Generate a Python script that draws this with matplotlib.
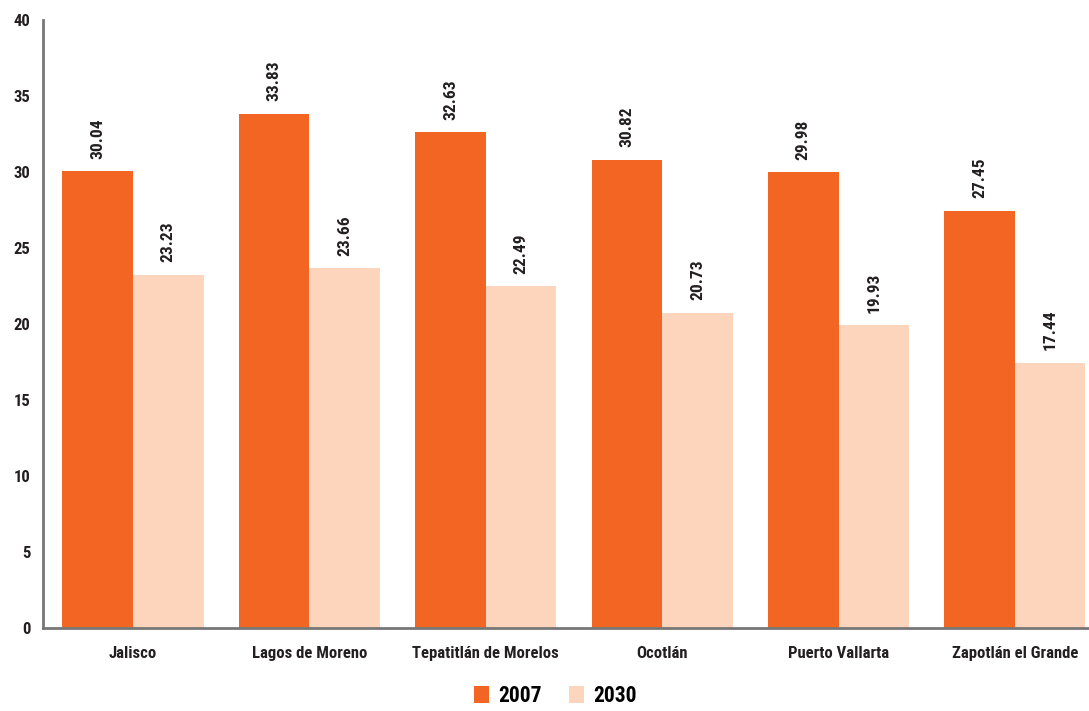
import numpy as np
from matplotlib import pyplot as plt
from matplotlib import font_manager

categories = ["Jalisco", "Lagos de Moreno", "Tepatitlán de Morelos", "Ocotlán",
              "Puerto Vallarta", "Zapotlán el Grande"]
values_2007 = [30.04, 33.83, 32.63, 30.82, 29.98, 27.45]
values_2030 = [23.23, 23.66, 22.49, 20.73, 19.93, 17.44]
series_labels = ["2007", "2030"]

# pick a narrow-ish family if one is there
installed = {f.name for f in font_manager.fontManager.ttflist}
narrow = None
for name in ["Liberation Sans Narrow", "Roboto Condensed", "Open Sans Condensed",
             "DejaVu Sans Condensed"]:
    if name in installed:
        narrow = name
        break
if narrow is None:
    narrow = "Roboto"
    scale = 0.93
else:
    scale = 1.0
font = [narrow, "DejaVu Sans"]
plt.rcParams['font.family'] = font

fig = plt.figure(figsize=(10.89, 7.11), dpi=100)
ax = fig.add_axes([43/1089, 1 - 628/711, 1 - 43/1089, (628 - 20)/711])

x = np.arange(len(categories))
w = 0.40
b1 = ax.bar(x - w/2, values_2007, w, color="#F26522", label=series_labels[0])
b2 = ax.bar(x + w/2, values_2030, w, color="#FDD5BC", label=series_labels[1])

for bars, vals in [(b1, values_2007), (b2, values_2030)]:
    for rect, v in zip(bars, vals):
        ax.annotate("{:.2f}".format(v), (rect.get_x() + rect.get_width()/2, v),
                    xytext=(0, 9), textcoords="offset points", rotation=90,
                    ha="center", va="bottom", fontsize=12.5*scale, fontweight="bold",
                    color="#231F20")

ax.set_ylim(0, 40)
ax.set_yticks(range(0, 41, 5))
ax.set_xlim(-0.51, 5.42)
ax.set_xticks(x)
ax.set_xticklabels(categories)
ax.tick_params(length=0, labelsize=12*scale, colors="#231F20")
ax.tick_params(axis="x", pad=13)
ax.tick_params(axis="y", pad=9)
for lab in ax.get_xticklabels() + ax.get_yticklabels():
    lab.set_fontweight("bold")
for s in ["top", "right"]:
    ax.spines[s].set_visible(False)
for s in ["left", "bottom"]:
    ax.spines[s].set_color("#777777")
    ax.spines[s].set_linewidth(2)

fig.legend(handles=[b1, b2], loc="lower center", bbox_to_anchor=(0.51, -0.022),
           ncol=2, frameon=False, handlelength=0.7, handleheight=0.85,
           columnspacing=1.3, handletextpad=0.4,
           prop={"family": font, "weight": "bold", "size": 15.5*scale})

fig.savefig("out.png", dpi=100)
